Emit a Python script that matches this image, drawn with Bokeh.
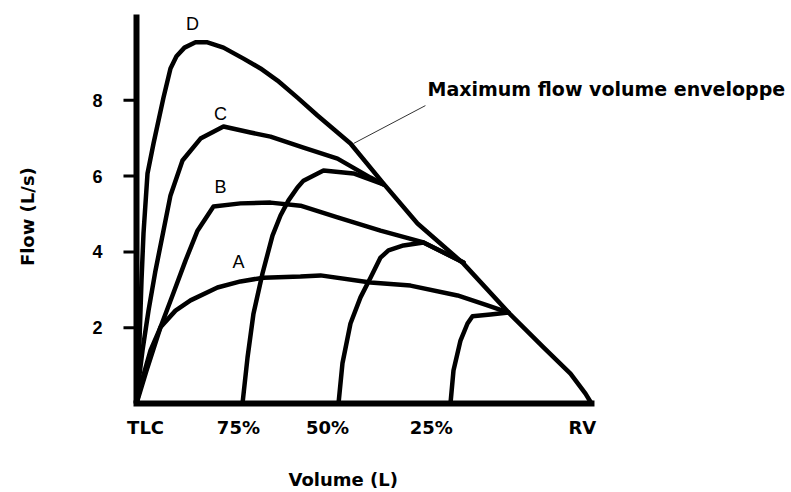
import math
from bokeh.plotting import figure
from bokeh.models import Range1d
from bokeh.core.properties import value
from bokeh.embed import file_html
from bokeh.resources import INLINE

# Volume axis: 0 = TLC, 100 = RV (percent of vital capacity expired)
vol_tick_pos = [2.0, 22.4, 42.0, 64.8, 98.0]
vol_tick_labels = ["TLC", "75%", "50%", "25%", "RV"]
flow_ticks = [2, 4, 6, 8]

# Curve D / maximum flow-volume envelope
d_vol = [0, 0.22, 0.66, 1.10, 1.54, 2.42, 3.74, 5.93, 7.47, 8.79, 10.55, 12.97, 15.60,
         19.12, 23.52, 27.25, 30.99, 35.38, 39.78, 47.03, 54.29, 61.76, 71.87, 81.76,
         89.45, 95.38, 98.68, 100]
d_flow = [0, 0.61, 1.66, 3.25, 4.49, 6.07, 6.86, 8.07, 8.84, 9.16, 9.39, 9.53, 9.53,
          9.39, 9.10, 8.84, 8.52, 8.07, 7.60, 6.86, 5.80, 4.75, 3.69, 2.40, 1.48, 0.79,
          0.26, 0]

c_vol = [0, 0.22, 1.32, 2.64, 4.18, 5.93, 7.47, 10.11, 14.07, 19.12, 25.05, 29.45,
         36.70, 44.18, 51.43, 54.29]
c_flow = [0, 0.34, 1.40, 2.45, 3.51, 4.56, 5.49, 6.41, 6.99, 7.31, 7.15, 7.04, 6.75,
          6.46, 5.96, 5.78]

b_vol = [0, 2.20, 5.27, 7.91, 10.77, 13.41, 16.92, 22.86, 29.45, 36.04, 44.18, 53.63,
         63.08, 71.87]
b_flow = [0, 0.87, 2.01, 2.85, 3.77, 4.56, 5.20, 5.28, 5.30, 5.22, 4.91, 4.56, 4.25, 3.72]

a_vol = [0, 0.88, 3.08, 5.27, 8.57, 11.87, 17.80, 22.86, 27.91, 36.04, 40.44, 51.43,
         60.22, 70.55, 77.14, 81.76]
a_flow = [0, 0.47, 1.40, 2.01, 2.45, 2.72, 3.06, 3.22, 3.32, 3.35, 3.38, 3.19, 3.11,
          2.85, 2.59, 2.40]

# Forced expirations started from 75%, 50% and 25% of vital capacity
p75_vol = [23.30, 24.40, 25.71, 27.69, 29.89, 31.65, 33.41, 35.38, 36.70, 41.10, 47.69, 54.29]
p75_flow = [0, 1.21, 2.37, 3.43, 4.43, 4.96, 5.36, 5.70, 5.88, 6.15, 6.07, 5.78]

p50_vol = [44.40, 45.27, 47.03, 49.23, 51.43, 53.63, 55.38, 58.68, 63.08, 71.87]
p50_flow = [0, 1.06, 2.11, 2.80, 3.32, 3.85, 4.04, 4.17, 4.25, 3.72]

p25_vol = [69.01, 69.67, 71.21, 72.75, 73.85, 77.80, 81.76]
p25_flow = [0, 0.87, 1.66, 2.11, 2.30, 2.35, 2.40]

curve_names = ["D", "C", "B", "A"]

curves = [(d_vol, d_flow), (c_vol, c_flow), (b_vol, b_flow), (a_vol, a_flow),
          (p75_vol, p75_flow), (p50_vol, p50_flow), (p25_vol, p25_flow)]

RV = 100
FLOW_TOP = 10.264

W, H = 790, 490
p = figure(width=W, height=H, output_backend="svg", toolbar_location=None,
           x_range=Range1d(-29.89, 143.74), y_range=Range1d(-2.296, 10.633))
p.min_border = 0
p.outline_line_color = None
p.grid.visible = False
p.xaxis.visible = False
p.yaxis.visible = False

# axes: flow axis line with tick marks, volume baseline from TLC to RV
p.line([0, 0], [0, FLOW_TOP], line_color="black", line_width=6)
p.line([0, RV], [0, 0], line_color="black", line_width=6, line_cap="square")
p.segment(x0=[-2.86] * len(flow_ticks), y0=flow_ticks, x1=[0] * len(flow_ticks),
          y1=flow_ticks, line_color="black", line_width=3)
p.text(x=[-8.57] * len(flow_ticks), y=flow_ticks, text=[str(t) for t in flow_ticks],
       text_align="center", text_baseline="middle", text_font=value("Liberation Sans"),
       text_font_style="bold", text_font_size="18px", text_color="black")
p.text(x=[-23.96], y=[4.93], text=["Flow (L/s)"], angle=math.pi / 2,
       text_align="center", text_baseline="middle", text_font=value("DejaVu Sans"),
       text_font_style="bold", text_font_size="18px", text_color="black")

# volume tick labels and axis title
p.text(x=vol_tick_pos, y=[-0.646] * len(vol_tick_pos), text=vol_tick_labels,
       text_align="center", text_baseline="middle", text_font=value("DejaVu Sans"),
       text_font_style="bold", text_font_size="18px", text_color="black")
p.text(x=[33.4], y=[-2.005], text=["Volume (L)"], text_align="left",
       text_baseline="middle", text_font=value("DejaVu Sans"),
       text_font_style="bold", text_font_size="18px", text_color="black")

for xs, ys in curves:
    p.line(xs, ys, line_color="black", line_width=4.5, line_join="round", line_cap="round")

# envelope annotation with its leader line
p.line([47.7, 63.5], [6.86, 7.86], line_color="#333333", line_width=1)
p.text(x=[63.96], y=[8.30], text=["Maximum flow volume enveloppe"], text_align="left",
       text_baseline="middle", text_font=value("DejaVu Sans"),
       text_font_style="bold", text_font_size="19px", text_color="black")

p.text(x=[12.3, 18.46, 18.46, 22.42], y=[10.0, 7.65, 5.70, 3.72], text=curve_names,
       text_align="center", text_baseline="middle", text_font=value("Liberation Sans"),
       text_font_size="18px", text_color="black")

open("out.html", "w").write(file_html(p, INLINE))
